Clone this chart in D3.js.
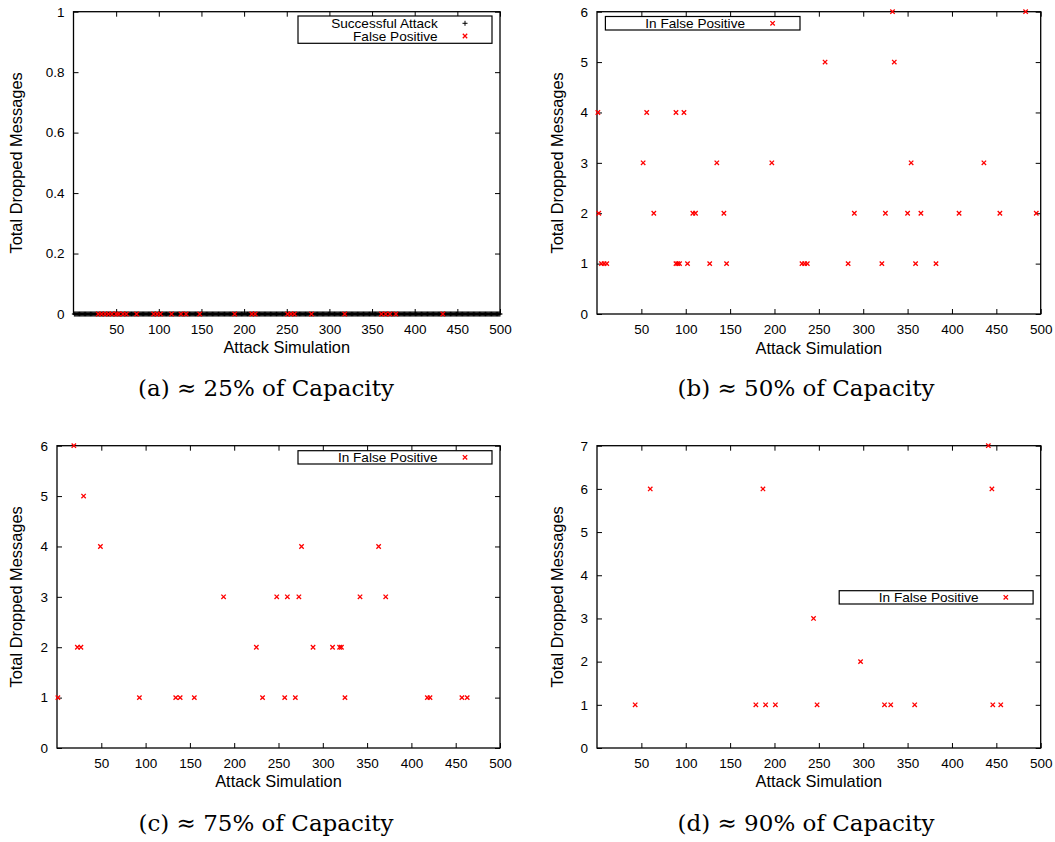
<!DOCTYPE html>
<html>
<head>
<meta charset="utf-8">
<script src="https://cdn.jsdelivr.net/npm/d3@7"></script>
<style>
  body { margin: 0; background: #fff; }
  svg { display: block; }
  text { font-family: "Liberation Sans", Arial, sans-serif; fill: #000; }
  .caption { font-family: "DejaVu Serif", "Liberation Serif", serif; }
</style>
</head>
<body>
<svg id="chart" width="1055" height="842"></svg>
<script>

// ---- data ----

var runTicks = [50, 100, 150, 200, 250, 300, 350, 400, 450, 500];

// (a) every simulated attack succeeded with nothing dropped
var simulationRuns = d3.range(1, 501);
var fpRunsA = [29, 33, 37, 41, 45, 50, 53, 58, 62, 74, 94, 98, 102, 115, 126, 132, 148,
               189, 209, 213, 251, 255, 259, 279, 318, 361, 366, 371, 378, 433];
var yTicksA = [0, 0.2, 0.4, 0.6, 0.8, 1];

// (b) ~50% capacity
var fpRunsB    = [1, 56, 89, 98, 2, 64, 108, 111, 143, 290, 325, 350, 365, 408, 454, 495,
                  5, 8, 11, 89, 91, 93, 102, 127, 146, 231, 234, 237, 283, 321, 359, 382,
                  52, 135, 197, 354, 436, 257, 335, 333, 483];
var fpDroppedB = [4, 4, 4, 4, 2, 2, 2, 2, 2, 2, 2, 2, 2, 2, 2, 2,
                  1, 1, 1, 1, 1, 1, 1, 1, 1, 1, 1, 1, 1, 1, 1, 1,
                  3, 3, 3, 3, 3, 5, 5, 6, 6];
var yTicksB = [0, 1, 2, 3, 4, 5, 6];

// (c) ~75% capacity
var fpRunsC    = [19, 30, 49, 276, 363, 188, 248, 260, 273, 342, 371,
                  23, 27, 225, 289, 311, 319, 321,
                  1, 93, 134, 139, 155, 232, 257, 269, 325, 418, 421, 457, 463];
var fpDroppedC = [6, 5, 4, 4, 4, 3, 3, 3, 3, 3, 3,
                  2, 2, 2, 2, 2, 2, 2,
                  1, 1, 1, 1, 1, 1, 1, 1, 1, 1, 1, 1, 1];
var yTicksC = [0, 1, 2, 3, 4, 5, 6];

// (d) ~90% capacity
var fpRunsD    = [441, 60, 187, 445, 244, 297, 43, 179, 190, 201, 248, 324, 331, 358, 446, 455];
var fpDroppedD = [7, 6, 6, 6, 3, 2, 1, 1, 1, 1, 1, 1, 1, 1, 1, 1];
var yTicksD = [0, 1, 2, 3, 4, 5, 6, 7];

var captions = ["(a) \u2248 25% of Capacity", "(b) \u2248 50% of Capacity",
                "(c) \u2248 75% of Capacity", "(d) \u2248 90% of Capacity"];

// ---- drawing ----

var svg = d3.select("#chart");
svg.append("rect").attr("width", 1055).attr("height", 842).attr("fill", "#fff");

function zip(xs, ys){
  return xs.map(function(x, i){ return {x: x, y: ys[i]}; });
}

function crossPlus(g, pts, x, y){
  g.selectAll(null).data(pts).enter().append("path")
    .attr("d", function(d){
      var cx = x(d.x), cy = y(d.y), s = 2.5;
      return "M" + (cx - s) + "," + cy + "H" + (cx + s) + "M" + cx + "," + (cy - s) + "V" + (cy + s);
    })
    .attr("stroke", "#000").attr("stroke-width", 1).attr("fill", "none");
}

function crossX(g, pts, x, y){
  g.selectAll(null).data(pts).enter().append("path")
    .attr("d", function(d){
      var cx = x(d.x), cy = y(d.y), s = 2.2;
      return "M" + (cx - s) + "," + (cy - s) + "L" + (cx + s) + "," + (cy + s) +
             "M" + (cx - s) + "," + (cy + s) + "L" + (cx + s) + "," + (cy - s);
    })
    .attr("stroke", "#ff0000").attr("stroke-width", 1.3).attr("fill", "none");
}

function drawPanel(p){
  var g = svg.append("g");
  var x = d3.scaleLinear().domain([0, 500]).range([p.left, p.right]);
  var y = d3.scaleLinear().domain([0, d3.max(p.yTicks)]).range([p.bottom, p.top]);

  var fmt = d3.format("~g");

  g.append("g").attr("transform", "translate(0," + p.bottom + ")")
    .call(d3.axisBottom(x).tickValues(runTicks).tickSize(-5).tickPadding(10).tickFormat(fmt));
  g.append("g").attr("transform", "translate(0," + p.top + ")")
    .call(d3.axisTop(x).tickValues(runTicks).tickSize(-5).tickFormat(""));
  g.append("g").attr("transform", "translate(" + p.left + ",0)")
    .call(d3.axisLeft(y).tickValues(p.yTicks).tickSize(-5).tickPadding(9).tickFormat(fmt));
  g.append("g").attr("transform", "translate(" + p.right + ",0)")
    .call(d3.axisRight(y).tickValues(p.yTicks).tickSize(-5).tickFormat(""));

  g.selectAll(".domain").remove();
  g.selectAll(".tick line").attr("stroke", "#000").attr("stroke-width", 1);
  g.selectAll(".tick text").attr("font-size", 13.5).attr("font-family", "Liberation Sans, Arial, sans-serif").attr("fill", "#000");

  g.append("rect")
    .attr("x", p.left).attr("y", p.top)
    .attr("width", p.right - p.left).attr("height", p.bottom - p.top)
    .attr("fill", "none").attr("stroke", "#000").attr("stroke-width", 1.3);

  // axis titles
  g.append("text")
    .attr("transform", "translate(" + p.yTitleX + "," + (p.top + p.bottom) / 2 + ") rotate(-90)")
    .attr("text-anchor", "middle").attr("dy", "0.35em").attr("font-size", 16.4)
    .text("Total Dropped Messages");
  g.append("text")
    .attr("x", (p.left + p.right) / 2).attr("y", p.xTitleY)
    .attr("text-anchor", "middle").attr("dy", "0.35em").attr("font-size", 16.4)
    .text("Attack Simulation");

  // marks
  if (p.success) crossPlus(g, p.success, x, y);
  crossX(g, p.falsePos, x, y);

  // key
  var k = p.key;
  g.append("rect")
    .attr("x", k.x0).attr("y", k.y0).attr("width", k.x1 - k.x0).attr("height", k.y1 - k.y0)
    .attr("fill", "#fff").attr("stroke", "#000").attr("stroke-width", 1.2);
  k.rows.forEach(function(r, i){
    var ry = k.firstRow + i * 12.7;
    g.append("text").attr("x", k.textEnd).attr("y", ry).attr("dy", "0.35em")
      .attr("text-anchor", "end").attr("font-size", 13.6).text(r.label);
    var s = r.plus ? 2.5 : 2.2;
    var path = r.plus
      ? "M" + (k.markX - s) + "," + ry + "H" + (k.markX + s) + "M" + k.markX + "," + (ry - s) + "V" + (ry + s)
      : "M" + (k.markX - s) + "," + (ry - s) + "L" + (k.markX + s) + "," + (ry + s) +
        "M" + (k.markX - s) + "," + (ry + s) + "L" + (k.markX + s) + "," + (ry - s);
    g.append("path").attr("d", path).attr("fill", "none")
      .attr("stroke", r.plus ? "#000" : "#ff0000").attr("stroke-width", r.plus ? 1 : 1.3);
  });

  // caption
  svg.append("text").attr("class", "caption")
    .attr("x", p.capX).attr("y", p.capY)
    .attr("text-anchor", "middle").attr("font-size", 23)
    .text(p.caption);
}

drawPanel({
  left: 73.5, right: 500, top: 11.7, bottom: 314,
  yTicks: yTicksA, yTitleX: 16.5, xTitleY: 347.7,
  success: simulationRuns.map(function(r){ return {x: r, y: 0}; }),
  falsePos: fpRunsA.map(function(r){ return {x: r, y: 0}; }),
  key: {x0: 298, x1: 492, y0: 16, y1: 43.3, firstRow: 23.3, textEnd: 437.7, markX: 465,
        rows: [{label: "Successful Attack", plus: true}, {label: "False Positive"}]},
  caption: captions[0], capX: 266, capY: 396
});

drawPanel({
  left: 597, right: 1040.7, top: 11.7, bottom: 314,
  yTicks: yTicksB, yTitleX: 557.6, xTitleY: 348.3,
  falsePos: zip(fpRunsB, fpDroppedB),
  key: {x0: 605.4, x1: 800, y0: 16.5, y1: 30, firstRow: 23.3, textEnd: 745, markX: 772.6,
        rows: [{label: "In False Positive"}]},
  caption: captions[1], capX: 806, capY: 396
});

drawPanel({
  left: 57, right: 500, top: 445.7, bottom: 748,
  yTicks: yTicksC, yTitleX: 16.7, xTitleY: 781.7,
  falsePos: zip(fpRunsC, fpDroppedC),
  key: {x0: 298, x1: 492, y0: 450.7, y1: 464, firstRow: 457.3, textEnd: 437.7, markX: 465,
        rows: [{label: "In False Positive"}]},
  caption: captions[2], capX: 266, capY: 831
});

drawPanel({
  left: 597, right: 1040.7, top: 445.7, bottom: 748,
  yTicks: yTicksD, yTitleX: 557.6, xTitleY: 781.7,
  falsePos: zip(fpRunsD, fpDroppedD),
  key: {x0: 839.2, x1: 1033.1, y0: 590.7, y1: 604, firstRow: 597.3, textEnd: 978.5, markX: 1005.8,
        rows: [{label: "In False Positive"}]},
  caption: captions[3], capX: 806, capY: 831
});

</script>
</body>
</html>
